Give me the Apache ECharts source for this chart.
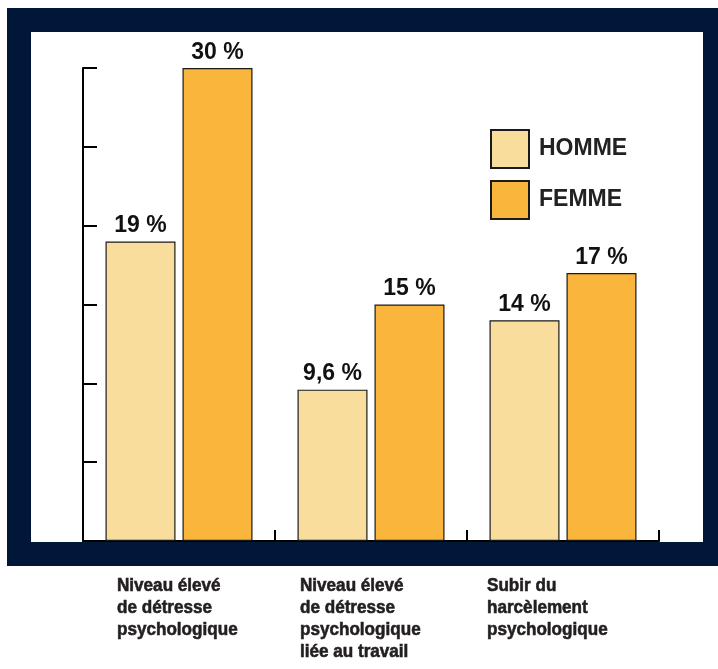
<!DOCTYPE html>
<html>
<head>
<meta charset="utf-8">
<script src="https://cdn.jsdelivr.net/npm/echarts@6/dist/echarts.min.js"></script>
<style>html,body{margin:0;padding:0;background:#fff;}#c{width:718px;height:669px;}</style>
</head>
<body>
<div id="c"></div>
<script>
const categories = ['Niveau élevé\nde détresse\npsychologique', 'Niveau élevé\nde détresse\npsychologique\nliée au travail', 'Subir du\nharcèlement\npsychologique'];
const seriesNames = ['HOMME', 'FEMME'];
const homme = [19, 9.6, 14];
const femme = [30, 15, 17];

const labelOffsets = [-62, -71, -76];
const mainFont = '"Liberation Sans", Arial, sans-serif';

const chart = echarts.init(document.getElementById('c'), null, {renderer: 'canvas'});
const fmt = p => String(p.value).replace('.', ',') + ' %';
const option = {
  backgroundColor: '#ffffff',
  animation: false,
  grid: {left: 83, right: 59, top: 68, bottom: 128},
  legend: {
    data: seriesNames,
    orient: 'vertical',
    left: 485, top: 124,
    itemWidth: 38, itemHeight: 38, itemGap: 11,
    icon: 'rect',
    textStyle: {fontFamily: mainFont, fontWeight: 'bold', fontSize: 23, color: '#222222', padding: [0, 0, 0, 5]}
  },
  xAxis: {
    type: 'category',
    data: categories,
    axisLine: {lineStyle: {color: '#000', width: 2}},
    axisTick: {show: true, inside: true, length: 11, lineStyle: {color: '#000', width: 2}},
    axisLabel: {show: false}
  },
  yAxis: {
    type: 'value',
    min: 0, max: 30, interval: 5,
    axisLine: {show: true, lineStyle: {color: '#000', width: 2}},
    axisTick: {show: true, inside: true, length: 14, lineStyle: {color: '#000', width: 2}},
    axisLabel: {show: false},
    splitLine: {show: false}
  },
  series: [
    {
      name: seriesNames[0], type: 'bar', data: homme, barWidth: 70, barGap: '10%',
      itemStyle: {color: '#F8DD9D', borderColor: '#1a1a1a', borderWidth: 1.2},
      label: {show: true, position: 'top', distance: 4, formatter: fmt, fontFamily: mainFont, fontWeight: 'bold', fontSize: 23, color: '#111'}
    },
    {
      name: seriesNames[1], type: 'bar', data: femme, barWidth: 70,
      itemStyle: {color: '#F9B53C', borderColor: '#1a1a1a', borderWidth: 1.2},
      label: {show: true, position: 'top', distance: 4, formatter: fmt, fontFamily: mainFont, fontWeight: 'bold', fontSize: 23, color: '#111'}
    }
  ],
  graphic: [
    {type: 'rect', z: -10, silent: true, shape: {x: 7, y: 8, width: 711, height: 558}, style: {fill: '#00173A'}},
    {type: 'rect', z: -9, silent: true, shape: {x: 31, y: 32, width: 672, height: 510}, style: {fill: '#ffffff'}}
  ]
};
chart.setOption(option);

const baseY = chart.convertToPixel({yAxisIndex: 0}, 0);
const labelGraphics = categories.map((c, i) => {
  const cx = chart.convertToPixel({xAxisIndex: 0}, i);
  return {
    type: 'text', z: 10, silent: true,
    x: cx + labelOffsets[i], y: baseY + 34,
    scaleX: 0.9,
    style: {text: c, fontFamily: mainFont, fontWeight: 'bold', fontSize: 19, lineHeight: 22, fill: '#231F20', stroke: '#231F20', lineWidth: 0.6, align: 'left', verticalAlign: 'top'}
  };
});
chart.setOption({graphic: option.graphic.concat(labelGraphics)});
</script>
</body>
</html>
